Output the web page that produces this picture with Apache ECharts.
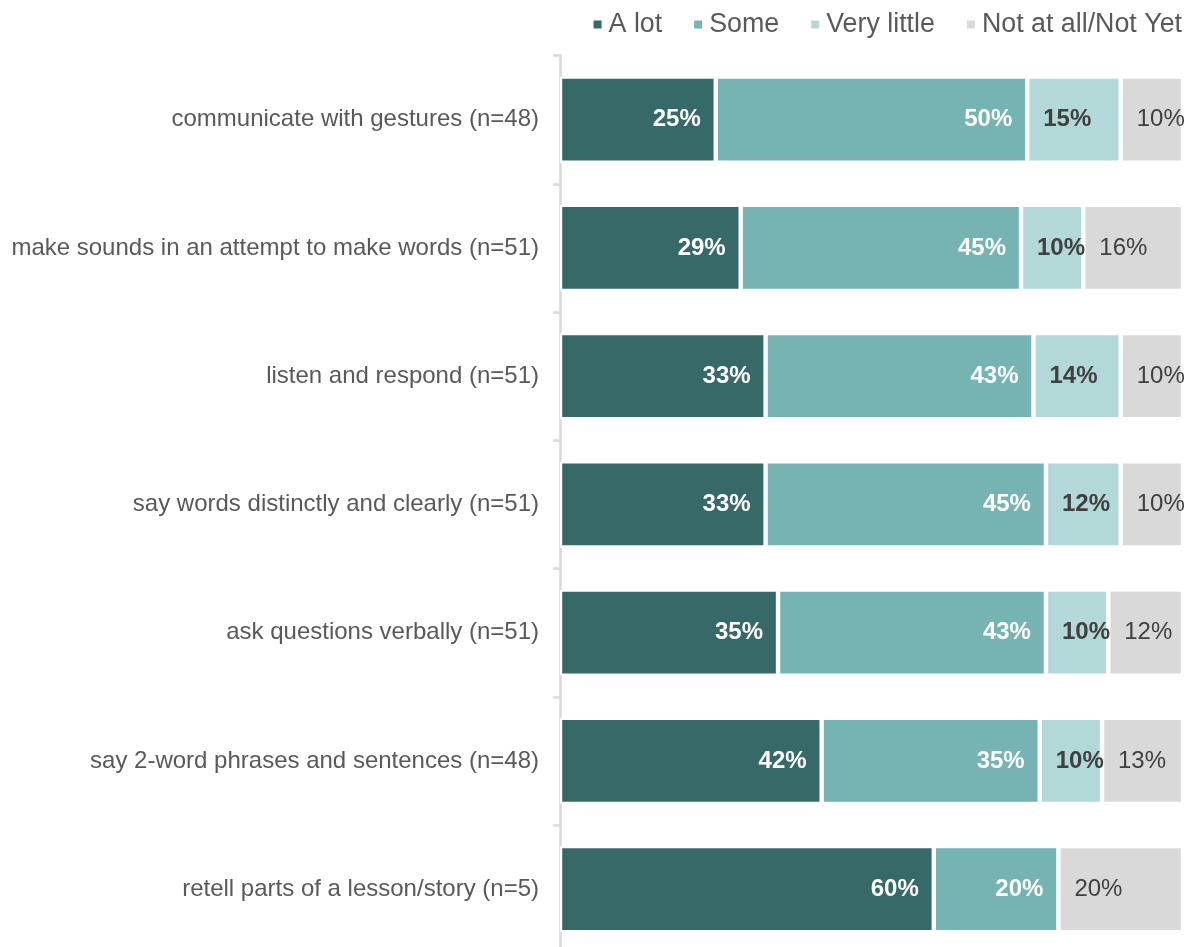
<!DOCTYPE html>
<html>
<head>
<meta charset="utf-8">
<script src="https://cdn.jsdelivr.net/npm/echarts@6/dist/echarts.min.js"></script>
<style>
  html, body { margin: 0; padding: 0; background: #fff; overflow: hidden; }
  /* the category axis runs a little past the bottom edge of the page */
  #chart { width: 1190px; height: 960px; }
</style>
</head>
<body>
<div id="chart"></div>
<script>
// Skills reported, share of respondents per response level (%)
const categories = [
  'communicate with gestures (n=48)',
  'make sounds in an attempt to make words (n=51)',
  'listen and respond (n=51)',
  'say words distinctly and clearly (n=51)',
  'ask questions verbally (n=51)',
  'say 2-word phrases and sentences (n=48)',
  'retell parts of a lesson/story (n=5)'
];
const seriesNames = ['A lot', 'Some', 'Very little', 'Not at all/Not Yet'];
const aLot       = [25, 29, 33, 33, 35, 42, 60];
const some       = [50, 45, 43, 45, 43, 35, 20];
const veryLittle = [15, 10, 14, 12, 10, 10, 0];
const notAtAll   = [10, 16, 10, 10, 12, 13, 20];

const colors = ['#376969', '#76B3B3', '#B2D8D8', '#D9D9D9'];
const FONT = '"Liberation Sans", Arial, sans-serif';

function pct(p) { return p.value ? p.value + '%' : ''; }

function makeSeries(name, data, color, label) {
  return {
    name: name,
    type: 'bar',
    stack: 'total',
    barWidth: 86,
    data: data,
    itemStyle: { color: color, borderColor: '#ffffff', borderWidth: 2.2 },
    label: Object.assign({
      show: true,
      formatter: pct,
      fontFamily: FONT,
      fontSize: 24
    }, label),
    emphasis: { disabled: true }
  };
}

const chart = echarts.init(document.getElementById('chart'), null, { renderer: 'canvas' });
chart.setOption({
  animation: false,
  backgroundColor: '#ffffff',
  color: colors,
  legend: {
    data: seriesNames,
    right: 3,
    top: 6,
    icon: 'rect',
    itemWidth: 10,
    itemHeight: 10,
    itemGap: 30,
    textStyle: { fontFamily: FONT, fontSize: 26.8, color: '#595959', padding: [0, 0, 0, 1] }
  },
  grid: { left: 560, right: 7, top: 55.5, bottom: 6.75, containLabel: false },
  xAxis: {
    type: 'value',
    min: 0,
    max: 100,
    show: false
  },
  yAxis: {
    type: 'category',
    data: categories,
    inverse: true,
    offset: 1,
    axisLine: { show: true, lineStyle: { color: '#D9D9D9', width: 2.5 } },
    axisTick: { show: true, length: 7, lineStyle: { color: '#D9D9D9', width: 2.5 } },
    axisLabel: { fontFamily: FONT, fontSize: 24, color: '#595959', margin: 20 },
    splitLine: { show: false }
  },
  series: [
    makeSeries(seriesNames[0], aLot, colors[0], { position: 'insideRight', distance: 15, color: '#ffffff', fontWeight: 'bold' }),
    makeSeries(seriesNames[1], some, colors[1], { position: 'insideRight', distance: 15, color: '#ffffff', fontWeight: 'bold' }),
    makeSeries(seriesNames[2], veryLittle, colors[2], { position: 'insideLeft', distance: 16, color: '#404040', fontWeight: 'bold' }),
    makeSeries(seriesNames[3], notAtAll, colors[3], { position: 'insideLeft', distance: 16, color: '#404040', fontWeight: 'normal' })
  ]
});
</script>
</body>
</html>
